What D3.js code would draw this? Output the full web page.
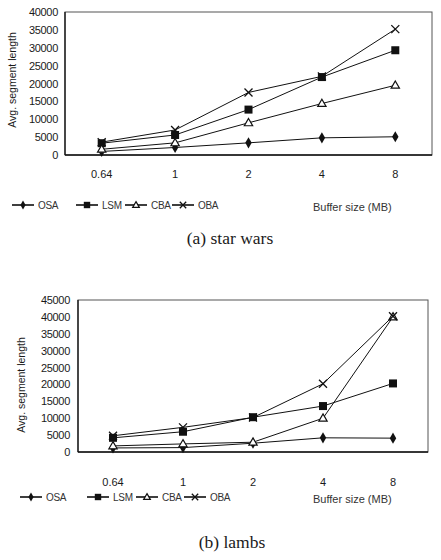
<!DOCTYPE html>
<html>
<head>
  <meta charset="utf-8">
  <title>Avg segment length vs buffer size</title>
  <style>
    body { margin: 0; background: #fff; }
    text { font-family: 'Liberation Sans', Arial, sans-serif; fill: #1a1a1a; }
    .caption { font-family: 'Liberation Serif', 'DejaVu Serif', serif; font-size: 17.5px; }
  </style>
</head>
<body>
  <div id='chart'></div>
  <script src="https://d3js.org/d3.v7.min.js"></script>
  <script>
    // data
    let bufferSizes = ['0.64', '1', '2', '4', '8'];
    let seriesNames = ['OSA', 'LSM', 'CBA', 'OBA'];

    // (a) star wars
    let swOSA = [1000, 2100, 3400, 4800, 5100];
    let swLSM = [3300, 5600, 12700, 21800, 29300];
    let swCBA = [1600, 3400, 9000, 14400, 19500];
    let swOBA = [3600, 7000, 17500, 22000, 35200];
    let swTicks = [0, 5000, 10000, 15000, 20000, 25000, 30000, 35000, 40000];

    // (b) lambs
    let lbOSA = [1200, 1300, 2600, 4200, 4100];
    let lbLSM = [4200, 6000, 10300, 13600, 20300];
    let lbCBA = [1800, 2400, 2900, 10000, 40000];
    let lbOBA = [4800, 7300, 10200, 20200, 40200];
    let lbTicks = [0, 5000, 10000, 15000, 20000, 25000, 30000, 35000, 40000, 45000];

    let svgWidth = 441;
    let svgHeight = 560;

    function translate(x, y) {
      return 'translate(' + x + ',' + y + ')';
    }

    let svg = d3.select('#chart').append('svg')
      .attr('width', svgWidth)
      .attr('height', svgHeight);

    // marker shapes
    function drawMarker(g, name, x, y, s) {
      s = s || 1;
      if (name == 'OSA') {
        g.append('path').attr('d', d3.symbol().type(d3.symbolDiamond).size(36 * s * s)())
          .attr('transform', translate(x, y)).style('fill', '#111');
      } else if (name == 'LSM') {
        g.append('rect').attr('x', x - 4 * s).attr('y', y - 4 * s)
          .attr('width', 8 * s).attr('height', 8 * s).style('fill', '#111');
      } else if (name == 'CBA') {
        g.append('path').attr('d', d3.symbol().type(d3.symbolTriangle).size(30 * s * s)())
          .attr('transform', translate(x, y + 0.5))
          .style('fill', '#fff').style('stroke', '#111').style('stroke-width', 1.2);
      } else {
        let r = 4 * s;
        g.append('path').attr('d', 'M' + -r + ',' + -r + 'L' + r + ',' + r + 'M' + -r + ',' + r + 'L' + r + ',' + -r)
          .attr('transform', translate(x, y))
          .style('stroke', '#111').style('stroke-width', 1.3).style('fill', 'none');
      }
    }

    function drawPanel(p) {
      let g = svg.append('g');

      let x = d3.scaleBand().domain(bufferSizes).range([p.left, p.right]);
      let y = d3.scaleLinear().domain([0, p.yMax]).range([p.bottom, p.top]);

      // frame
      g.append('rect')
        .attr('x', p.left).attr('y', p.top)
        .attr('width', p.right - p.left).attr('height', p.bottom - p.top)
        .style('fill', 'none').style('stroke', '#555').style('stroke-width', 1);
      g.append('line').attr('x1', p.left).attr('x2', p.left).attr('y1', p.top).attr('y2', p.bottom)
        .style('stroke', '#111').style('stroke-width', 1.3);
      g.append('line').attr('x1', p.left).attr('x2', p.right).attr('y1', p.bottom).attr('y2', p.bottom)
        .style('stroke', '#111').style('stroke-width', 1.3);

      // y axis labels (no tick marks)
      let yAxis = g.append('g')
        .attr('transform', translate(p.left, 0))
        .call(d3.axisLeft(y).tickValues(p.ticks).tickFormat(d3.format('d'))
          .tickSize(0).tickPadding(p.left - p.labelEnd));
      yAxis.select('.domain').remove();
      yAxis.selectAll('text').style('font-size', '11px').style('letter-spacing', '-0.3px')
        .style('font-family', "'Liberation Sans', Arial, sans-serif").attr('fill', '#1a1a1a');

      // x axis labels
      let xAxis = g.append('g')
        .attr('transform', translate(0, p.bottom))
        .call(d3.axisBottom(x).tickSize(0).tickPadding(p.xLabelY - p.bottom));
      xAxis.select('.domain').remove();
      xAxis.selectAll('text').style('font-size', '11px')
        .style('font-family', "'Liberation Sans', Arial, sans-serif").attr('fill', '#1a1a1a');

      // y title
      g.append('text')
        .attr('transform', translate(p.titleX, p.titleY) + ' rotate(-90)')
        .attr('text-anchor', 'middle')
        .style('font-size', '10.5px')
        .text('Avg. segment length');

      let line = d3.line()
        .x((d, i) => x(bufferSizes[i]) + x.bandwidth() / 2)
        .y(d => y(d));

      p.series.forEach(function (vals, k) {
        g.append('path')
          .attr('d', line(vals))
          .style('fill', 'none')
          .style('stroke', '#111')
          .style('stroke-width', 1);
      });
      p.series.forEach(function (vals, k) {
        vals.forEach(function (v, i) {
          drawMarker(g, seriesNames[k], x(bufferSizes[i]) + x.bandwidth() / 2, y(v));
        });
      });

      // legend (x = marker centre)
      seriesNames.forEach(function (name, k) {
        let mx = p.legendX[k];
        g.append('rect')
          .attr('x', mx - 11).attr('y', p.legendY - 0.75)
          .attr('width', 22).attr('height', 1.5)
          .style('fill', '#000');
        drawMarker(g, name, mx, p.legendY, 0.8);
        g.append('text')
          .attr('x', mx + 15).attr('y', p.legendY + 3.5)
          .style('font-size', '10px').style('letter-spacing', '-0.3px').style('fill', '#333')
          .text(name);
      });

      g.append('text')
        .attr('x', p.bufX).attr('y', p.bufY)
        .style('font-size', '11px').style('fill', '#333')
        .text('Buffer size (MB)');

      g.append('text')
        .attr('class', 'caption')
        .attr('x', p.capX).attr('y', p.capY)
        .attr('text-anchor', 'middle')
        .text(p.caption);
    }

    drawPanel({
      left: 65, right: 432, top: 12, bottom: 155,
      yMax: 40000, ticks: swTicks, labelEnd: 58,
      xLabelY: 170,
      titleX: 16, titleY: 80,
      series: [swOSA, swLSM, swCBA, swOBA],
      legendX: [23, 87, 136, 183], legendY: 205,
      bufX: 313, bufY: 211,
      caption: '(a) star wars', capX: 230, capY: 244
    });

    drawPanel({
      left: 78, right: 428, top: 300, bottom: 452,
      yMax: 45000, ticks: lbTicks, labelEnd: 70,
      xLabelY: 478,
      titleX: 25, titleY: 385,
      series: [lbOSA, lbLSM, lbCBA, lbOBA],
      legendX: [31, 98, 147, 195], legendY: 497,
      bufX: 313, bufY: 503,
      caption: '(b) lambs', capX: 232, capY: 548
    });
  </script>
</body>
</html>
